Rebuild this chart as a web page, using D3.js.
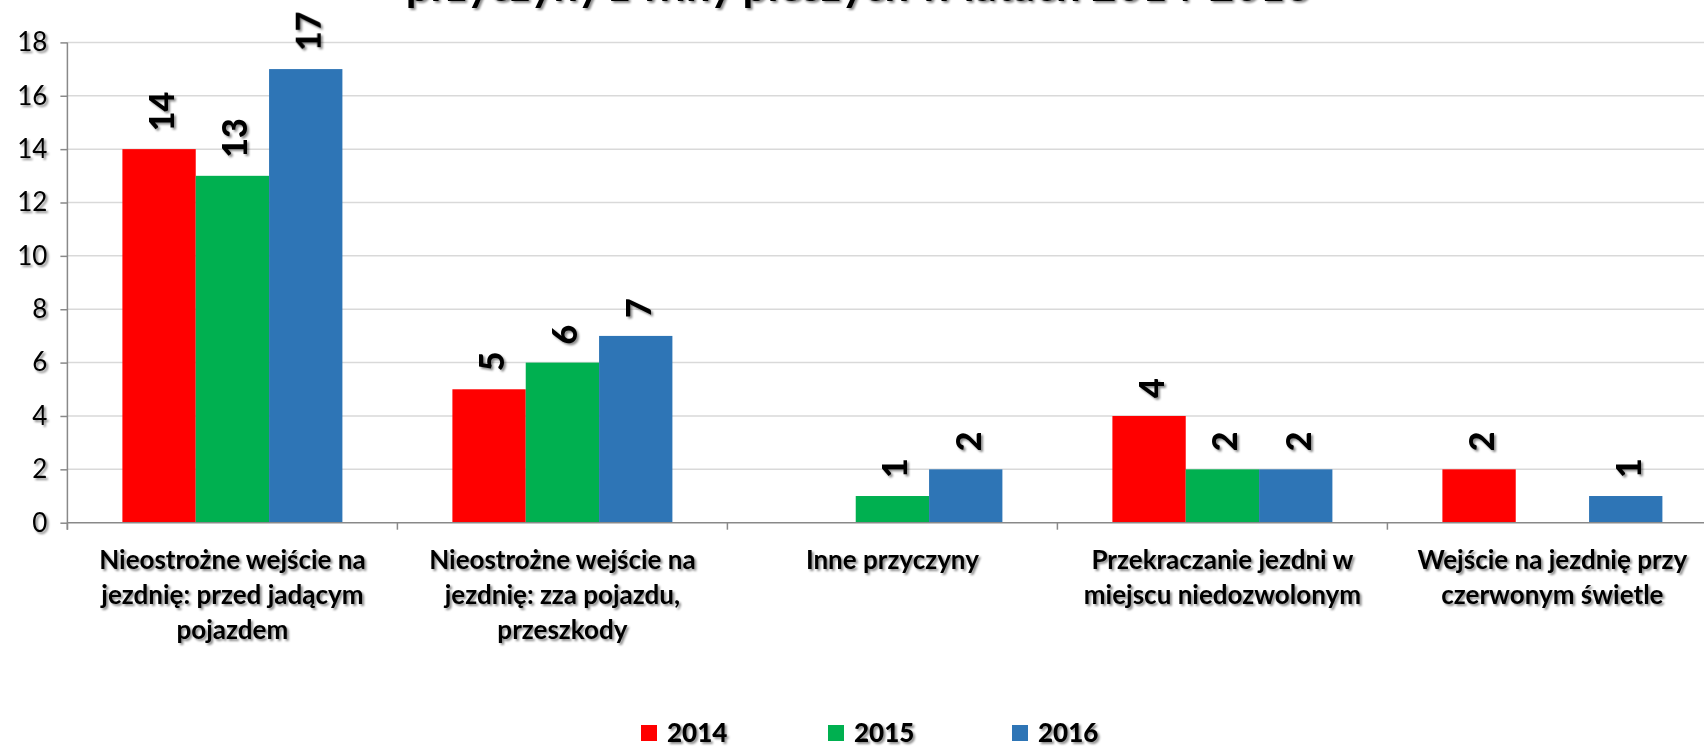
<!DOCTYPE html>
<html>
<head>
<meta charset="utf-8">
<script src="https://cdn.jsdelivr.net/npm/d3@7/dist/d3.min.js"></script>
<style>
  html, body { margin: 0; padding: 0; background: #fff; overflow: hidden; }
  svg { display: block; font-family: Lato, "Noto Sans", sans-serif; }
</style>
</head>
<body>
<svg id="chart" width="1704" height="747"></svg>
<script>
// Pedestrian-caused accident reasons, 2014–2016
const titleText = "przyczyny z winy pieszych w latach 2014-2016";
const categories = [
  "Nieostrożne wejście na jezdnię: przed jadącym pojazdem",
  "Nieostrożne wejście na jezdnię: zza pojazdu, przeszkody",
  "Inne przyczyny",
  "Przekraczanie jezdni w miejscu niedozwolonym",
  "Wejście na jezdnię przy czerwonym świetle"
];
const categoryLines = [
  ["Nieostrożne wejście na", "jezdnię: przed jadącym", "pojazdem"],
  ["Nieostrożne wejście na", "jezdnię: zza pojazdu,", "przeszkody"],
  ["Inne przyczyny"],
  ["Przekraczanie jezdni w", "miejscu niedozwolonym"],
  ["Wejście na jezdnię przy", "czerwonym świetle"]
];
const seriesNames = ["2014", "2015", "2016"];
const values2014 = [14, 5, null, 4, 2];
const values2015 = [13, 6, 1, 2, null];
const values2016 = [17, 7, 2, 2, 1];
const seriesColors = ["#FF0000", "#00B050", "#2E75B6"];
const yTicks = [0, 2, 4, 6, 8, 10, 12, 14, 16, 18];

const seriesValues = [values2014, values2015, values2016];

const svg = d3.select("#chart");

// soft drop shadow used on all chart text
const defs = svg.append("defs");
const shadow = defs.append("filter").attr("id", "txtShadow")
  .attr("x", "-20%").attr("y", "-40%").attr("width", "140%").attr("height", "180%");
shadow.append("feDropShadow")
  .attr("dx", 2).attr("dy", 2).attr("stdDeviation", 1.3)
  .attr("flood-color", "#000").attr("flood-opacity", 0.45);

const plot = { left: 67.4, top: 42.4, bottom: 522.7, width: 1650 };

const x0 = d3.scaleBand().domain(d3.range(categories.length))
  .range([plot.left, plot.left + plot.width]).paddingInner(0).paddingOuter(0);
const x1 = d3.scaleBand().domain(d3.range(seriesNames.length))
  .range([55, x0.bandwidth() - 55]).padding(0);
const y = d3.scaleLinear().domain([0, 18]).range([plot.bottom, plot.top]);

// gridlines
svg.append("g").selectAll("line").data(yTicks.filter(t => t > 0)).join("line")
  .attr("x1", plot.left).attr("x2", plot.left + plot.width)
  .attr("y1", d => y(d)).attr("y2", d => y(d))
  .attr("stroke", "#d9d9d9").attr("stroke-width", 1.5);

// bars
const rows = [];
categories.forEach((c, ci) => {
  seriesValues.forEach((vals, si) => {
    if (vals[ci] != null) rows.push({ ci, si, v: vals[ci] });
  });
});

svg.append("g").selectAll("rect").data(rows).join("rect")
  .attr("x", d => x0(d.ci) + x1(d.si))
  .attr("y", d => y(d.v))
  .attr("width", x1.bandwidth())
  .attr("height", d => y(0) - y(d.v))
  .attr("fill", d => seriesColors[d.si]);

// y axis
const yAxis = d3.axisLeft(y).tickValues(yTicks).tickSize(7).tickPadding(13);
const gy = svg.append("g").attr("transform", `translate(${plot.left},0)`).call(yAxis);
gy.select(".domain").attr("stroke", "#898989").attr("stroke-width", 1.5)
  .attr("d", `M0,${plot.top}V${plot.bottom + 7}`);
gy.selectAll(".tick line").attr("stroke", "#898989").attr("stroke-width", 1.5);
gy.selectAll(".tick text")
  .attr("font-size", 26).attr("font-family", "Lato, sans-serif")
  .attr("fill", "#000").attr("filter", "url(#txtShadow)");

// x axis line and category boundary ticks
const gx = svg.append("g");
gx.append("line")
  .attr("x1", plot.left).attr("x2", plot.left + plot.width)
  .attr("y1", plot.bottom).attr("y2", plot.bottom)
  .attr("stroke", "#898989").attr("stroke-width", 1.5);
gx.selectAll("line.tk").data(d3.range(categories.length + 1)).join("line")
  .attr("class", "tk")
  .attr("x1", d => plot.left + d * x0.step()).attr("x2", d => plot.left + d * x0.step())
  .attr("y1", plot.bottom).attr("y2", plot.bottom + 7)
  .attr("stroke", "#898989").attr("stroke-width", 1.5);

// category labels
const catG = svg.append("g").attr("font-weight", "bold").attr("font-size", 26)
  .attr("text-anchor", "middle").attr("fill", "#000").attr("filter", "url(#txtShadow)");
categoryLines.forEach((lines, ci) => {
  const t = catG.append("text").attr("x", x0(ci) + x0.bandwidth() / 2).attr("y", 569);
  lines.forEach((ln, li) => {
    t.append("tspan").attr("x", x0(ci) + x0.bandwidth() / 2)
      .attr("dy", li === 0 ? 0 : 35).text(ln);
  });
});

// rotated value labels above bars
svg.append("g").attr("font-weight", 900).attr("font-size", 34).attr("fill", "#000")
  .attr("filter", "url(#txtShadow)")
  .selectAll("text").data(rows).join("text")
  .attr("transform", d => {
    const cx = x0(d.ci) + x1(d.si) + x1.bandwidth() / 2 + 15;
    return `translate(${cx},${y(d.v) - 18}) rotate(-90)`;
  })
  .text(d => d.v);

// legend
const legendX = [641, 828, 1012];
const lg = svg.append("g");
seriesNames.forEach((s, i) => {
  lg.append("rect").attr("x", legendX[i]).attr("y", 725).attr("width", 16).attr("height", 16)
    .attr("fill", seriesColors[i]);
  lg.append("text").attr("x", legendX[i] + 26).attr("y", 742)
    .attr("font-weight", 900).attr("font-size", 26).attr("fill", "#000")
    .attr("filter", "url(#txtShadow)").text(s);
});

// title, mostly above the top edge
const title = svg.append("text").attr("x", 858).attr("y", 0.5)
  .attr("text-anchor", "middle").attr("font-weight", "bold").attr("font-size", 40)
  .attr("fill", "#000").attr("filter", "url(#txtShadow)").text(titleText);
const tl = title.node().getComputedTextLength();
title.attr("font-size", 40 * 905 / tl);
</script>
</body>
</html>
